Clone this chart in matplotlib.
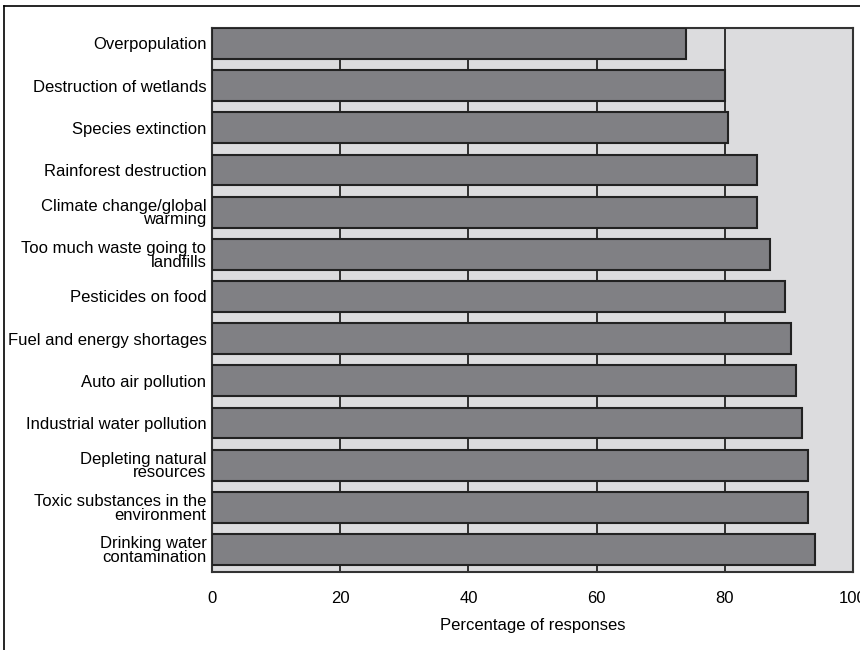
import matplotlib
matplotlib.use("Agg")
import matplotlib.pyplot as plt
from matplotlib.lines import Line2D

plt.rcParams["font.family"] = ["Liberation Sans Narrow", "Liberation Sans", "DejaVu Sans"]

# Data (top to bottom as in the chart)
issues = [
    "Overpopulation",
    "Destruction of wetlands",
    "Species extinction",
    "Rainforest destruction",
    "Climate change/global\nwarming",
    "Too much waste going to\nlandfills",
    "Pesticides on food",
    "Fuel and energy shortages",
    "Auto air pollution",
    "Industrial water pollution",
    "Depleting natural\nresources",
    "Toxic substances in the\nenvironment",
    "Drinking water\ncontamination",
]
percent = [74, 80, 80.5, 85, 85, 87, 89.4, 90.3, 91.1, 92, 93, 93, 94]
xticks = [0, 20, 40, 60, 80, 100]

fig = plt.figure(figsize=(8.6, 6.5), dpi=100)
ax = fig.add_axes([212 / 860, 1 - 572 / 650, (853 - 212) / 860, (572 - 28) / 650])

n = len(issues)
ypos = list(range(n - 1, -1, -1))
bar_h = 0.734
ax.set_facecolor("#dcdcde")
ax.barh(ypos, percent, height=bar_h, color="#808084", edgecolor="#222222",
        linewidth=1.5, zorder=3)

for x in xticks[1:-1]:
    ax.axvline(x, color="#222222", linewidth=1.3, zorder=1)

ax.set_xlim(0, 100)
ax.set_ylim(-bar_h / 2 - 0.166, n - 1 + bar_h / 2)
ax.set_xticks(xticks)
ax.set_xticklabels([str(x) for x in xticks], fontsize=12)
ax.set_yticks(ypos)
ax.set_yticklabels(issues, fontsize=12, linespacing=0.9)
ax.tick_params(axis="both", length=0)
ax.tick_params(axis="x", pad=14)
ax.tick_params(axis="y", pad=4)
ax.set_xlabel("Percentage of responses", fontsize=12, labelpad=8)

for side in ["top", "right", "bottom", "left"]:
    ax.spines[side].set_color("#333333")
    ax.spines[side].set_linewidth(1.5)

# Outer frame lines (left and top)
fig.add_artist(Line2D([4 / 860, 4 / 860], [0, 1 - 6 / 650], transform=fig.transFigure,
                      color="black", linewidth=1.2))
fig.add_artist(Line2D([4 / 860, 1], [1 - 6 / 650, 1 - 6 / 650], transform=fig.transFigure,
                      color="black", linewidth=1.2))

fig.savefig("out.png", dpi=100)
